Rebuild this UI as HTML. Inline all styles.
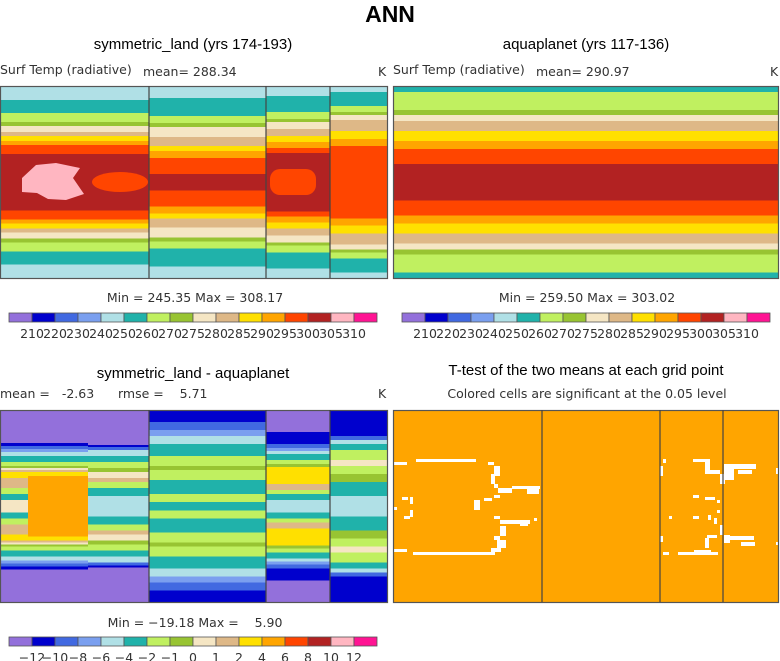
<!DOCTYPE html>
<html><head><meta charset="utf-8"><style>
html,body{margin:0;padding:0;background:#fff;}
svg{display:block;font-family:"Liberation Sans",sans-serif;}
.t{fill:#000;font-size:15px;text-anchor:middle}
.s{fill:#333;font-size:12.5px;font-family:"DejaVu Sans","Liberation Sans",sans-serif}
</style></head><body>
<svg id="c" width="780" height="661" xmlns="http://www.w3.org/2000/svg">
<text x="390" y="22" style="font-size:23px;font-weight:bold;text-anchor:middle">ANN</text>
<text class="t" x="193" y="49">symmetric_land (yrs 174-193)</text>
<text class="s" x="0" y="74">Surf Temp (radiative)</text>
<text class="s" x="143" y="76">mean= 288.34</text>
<text class="s" x="378" y="76">K</text>
<text class="t" x="586" y="49">aquaplanet (yrs 117-136)</text>
<text class="s" x="393" y="74">Surf Temp (radiative)</text>
<text class="s" x="536" y="76">mean= 290.97</text>
<text class="s" x="770" y="76">K</text>
<text class="s" x="195" y="302" text-anchor="middle">Min = 245.35 Max = 308.17</text>
<text class="s" x="587" y="302" text-anchor="middle">Min = 259.50 Max = 303.02</text>
<text class="t" x="193" y="378">symmetric_land - aquaplanet</text>
<text class="s" x="0" y="398" xml:space="preserve">mean =   -2.63      rmse =    5.71</text>
<text class="s" x="378" y="398">K</text>
<text class="t" x="586" y="375">T-test of the two means at each grid point</text>
<text class="s" x="587" y="398" text-anchor="middle">Colored cells are significant at the 0.05 level</text>
<text class="s" x="195" y="627" text-anchor="middle" xml:space="preserve">Min = −19.18 Max =    5.90</text>
</svg>
<script>
const colors=["#9370DB","#0000CD","#4169E1","#7A9FEF","#B0E0E6","#20B2AA","#C0F060","#98C432","#F5E6C4","#DEB887","#FFE000","#FFA500","#FF4500","#B22222","#FFB6C1","#FF1493"];
const tempTicks=["210","220","230","240","250","260","270","275","280","285","290","295","300","305","310"];
const diffTicks=["−12","−10","−8","−6","−4","−2","−1","0","1","2","4","6","8","10","12"];
const p1Sections=[[0,149],[149,266],[266,330],[330,387]];
const p1Bands=[
 [[4,14],[5,27],[6,36],[7,40],[8,46],[9,50],[10,55],[11,59],[12,68],[13,96]],
 [[4,12],[5,30],[6,37],[7,41],[8,51],[9,60],[10,65],[11,72],[12,88],[13,96]],
 [[4,10],[5,26],[6,33],[7,36],[8,43],[9,50],[10,56],[11,62],[12,67],[13,96]],
 [[4,6],[5,20],[6,26],[7,29],[8,34],[9,45],[10,53],[11,60],[12,96]]
];
const p2Bands=[[[5,6],[6,24],[7,29],[8,35],[9,45],[10,55],[11,63],[12,78],[13,96]]];
const p3Sections=[[0,28],[28,88],[88,149],[149,266],[266,330],[330,387]];
const p3Bands=[
 [[0,33],[1,36],[2,39],[3,42],[4,46],[5,52],[6,56],[7,58],[8,60],[9,62],[10,68],[9,78],[6,84],[5,90],[8,96]],
 [[0,33],[1,36],[2,39],[3,42],[4,46],[5,52],[6,56],[7,58],[8,60],[9,62],[10,66],[11,96]],
 [[0,35],[1,37],[2,40],[4,46],[5,52],[6,58],[7,62],[8,68],[9,72],[6,78],[5,86],[4,96]],
 [[1,12],[2,20],[3,26],[4,34],[5,46],[6,56],[7,60],[6,70],[5,84],[6,92],[5,96]],
 [[0,22],[1,34],[2,38],[3,41],[4,44],[5,50],[6,54],[7,57],[10,74],[9,80],[6,84],[5,90],[4,96]],
 [[1,26],[2,30],[4,34],[5,40],[6,50],[8,56],[6,64],[7,72],[5,86],[4,96]]
];
const ttestWhite=[[394,462,13,3],[416,459,60,3],[488,462,6,3],[494,466,6,10],[491,474,4,10],[494,484,4,4],[498,488,14,5],[512,486,28,3],[527,488,12,6],[402,497,6,3],[410,497,3,7],[394,507,3,3],[404,516,6,3],[410,510,3,7],[474,500,6,10],[484,498,8,3],[494,495,6,3],[494,516,6,3],[500,520,30,4],[520,520,8,6],[534,518,3,3],[500,526,6,10],[494,536,6,4],[497,540,9,8],[394,549,13,3],[413,552,82,3],[491,548,10,4],[660,466,3,10],[663,459,3,4],[693,459,17,3],[705,462,5,8],[705,470,15,4],[720,474,5,10],[724,467,10,13],[724,464,32,5],[738,470,14,4],[776,468,3,6],[693,495,6,3],[705,497,10,3],[717,500,3,3],[717,510,3,3],[669,516,3,3],[693,516,6,3],[708,515,3,5],[714,518,3,6],[720,525,3,10],[724,535,6,8],[730,536,24,4],[741,542,14,4],[776,542,3,3],[707,535,10,3],[705,538,4,10],[694,550,17,3],[678,552,40,3],[663,552,6,3],[660,536,3,6]];
const NS="http://www.w3.org/2000/svg",svg=document.getElementById('c');
function mk(t,a,p){const e=document.createElementNS(NS,t);for(const k in a)e.setAttribute(k,a[k]);(p||svg).appendChild(e);return e;}
function field(ox,oy,H,sections,bands,name){
 const g=mk('g',{});
 
 
 const half=H/2, sc=half/96;
 sections.forEach((s,i)=>{
  const b=bands[i];
  let prev=0;
  b.forEach(([ci,d])=>{
   const h=(d-prev)*sc;
   mk('rect',{x:ox+s[0],y:oy+prev*sc,width:s[1]-s[0],height:h+0.5,fill:colors[ci]},g);
   mk('rect',{x:ox+s[0],y:oy+H-d*sc,width:s[1]-s[0],height:h+0.5,fill:colors[ci]},g);
   prev=d;
  });
 });
 return g;
}
function frame(ox,oy,w,h,lines,name){
 const r=mk('rect',{x:ox+0.5,y:oy+0.5,width:w-1,height:h,fill:'none',stroke:'#555','stroke-width':1.2});
 
 
 lines.forEach(x=>mk('line',{x1:ox+x,x2:ox+x,y1:oy,y2:oy+h,stroke:'#444','stroke-width':1.2}));
}
field(0,86,192,p1Sections,p1Bands,'panel1-field');
let bl=mk('polygon',{points:'22,178 36,165 56,163 80,168 73,178 84,194 66,200 48,199 37,193 22,192',fill:colors[14]});


let ob=mk('ellipse',{cx:120,cy:182,rx:28,ry:10,fill:colors[12]});


let ob2=mk('rect',{x:270,y:169,width:46,height:26,rx:10,fill:colors[12]});


let fl=mk('rect',{x:149,y:178,width:117,height:8,fill:colors[13]});


frame(0,86,388,192,[149,266,330],'panel1-frame');
field(393,86,192,[[0,385]],p2Bands,'panel2-field');
frame(393,86,386,192,[],'panel2-frame');
field(0,410,192,p3Sections,p3Bands,'panel3-field');
frame(0,410,388,192,[149,266,330],'panel3-frame');
let tb=mk('rect',{x:393,y:410,width:386,height:192,fill:'#FFA500'});


ttestWhite.forEach(r=>{const e=mk('rect',{x:r[0],y:r[1],width:r[2],height:r[3],fill:'#fff'});
 
 });
frame(393,410,386,192,[149,267,330],'panel4-frame');
function colorbar(ox,oy,ticks,name){
 const cw=23;
 colors.forEach((c,i)=>{const e=mk('rect',{x:ox+i*cw,y:oy,width:cw,height:9,fill:c,stroke:'#555','stroke-width':0.8});
  
  });
 ticks.forEach((t,i)=>{const e=mk('text',{x:ox+(i+1)*cw,y:oy+25,'text-anchor':'middle',class:'s'});e.textContent=t;
  
  });
}
colorbar(9,313,tempTicks,'colorbar1');
colorbar(402,313,tempTicks,'colorbar2');
colorbar(9,637,diffTicks,'colorbar3');
</script>
</body></html>
